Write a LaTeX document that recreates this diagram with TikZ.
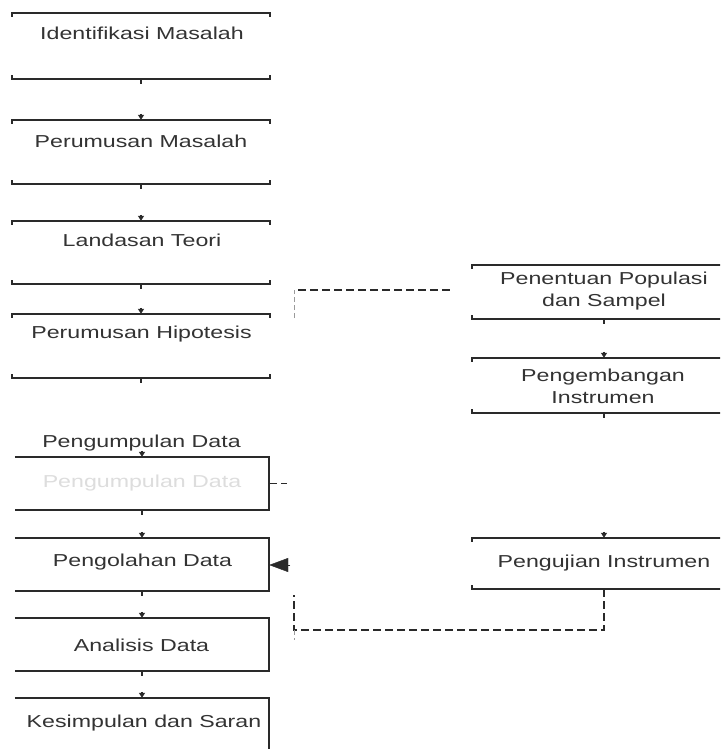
\documentclass[tikz,border=0pt]{standalone}
\usepackage{fontspec}
\setmainfont{Liberation Sans}
\newfontfamily\boxfont{Liberation Sans}[FakeStretch=1.34]
\usetikzlibrary{arrows.meta}
\definecolor{ink}{HTML}{2A2A2A}
\definecolor{txt}{HTML}{333333}
\definecolor{ghost}{HTML}{DDDDDD}
\definecolor{faint}{HTML}{9A9A9A}
\begin{document}
\begin{tikzpicture}[x=1pt,y=-1pt,
  lbox/.style={draw=none,inner sep=0pt,minimum width=258pt},
  mbox/.style={draw=none,inner sep=0pt,minimum width=254pt},
  rbox/.style={draw=none,inner sep=0pt,minimum width=264pt},
  lbl/.style={inner sep=0pt,text=txt,align=center,font={\boxfont\fontsize{17.3}{22}\selectfont}},
  ghostlbl/.style={lbl,text=ghost},
  edge/.style={draw=ink,line width=2.2pt},
  stub/.style={draw=ink,line width=1.8pt},
  tip/.style={draw=ink,line width=1.8pt,-{Triangle[length=5pt,width=6pt]}},
  dashline/.style={draw=ink,line width=1.9pt,dash pattern=on 8pt off 4pt},
  faintdash/.style={draw=faint,line width=0.9pt,dash pattern=on 5pt off 3pt}]
\clip (0,0) rectangle (720,749);
\fill[white] (0,0) rectangle (720,749);

% ---- left column boxes
\node[lbox,minimum height=66pt] (b1) at (141,46) {};
\node[lbox,minimum height=64pt] (b2) at (141,152) {};
\node[lbox,minimum height=63pt] (b3) at (141,252.5) {};
\node[lbox,minimum height=64pt] (b4) at (141,346) {};
\node[mbox,minimum height=53pt] (b5) at (142,483.5) {};
\node[mbox,minimum height=53pt] (b6) at (142,564.5) {};
\node[mbox,minimum height=53pt] (b7) at (142,644.5) {};
\node[mbox,minimum height=56pt] (b8) at (142,726) {};

% ---- right column boxes
\node[rbox,minimum height=54pt] (r1) at (604,292) {};
\node[rbox,minimum height=55pt] (r2) at (604,385.5) {};
\node[rbox,minimum height=51pt] (r3) at (604,563.5) {};

% ---- bracket outlines (top and bottom lines only)
\foreach \n in {b1,b2,b3,b4,r1,r2,r3}{
  \draw[edge] ([yshift=-4pt]\n.north west) -- (\n.north west) -- (\n.north east) -- ([yshift=-4pt]\n.north east);
  \draw[edge] ([yshift=4pt]\n.south west) -- (\n.south west) -- (\n.south east) -- ([yshift=4pt]\n.south east);
}
% ---- open boxes (top, right, bottom)
\foreach \n in {b5,b6,b7}{
  \draw[edge] (\n.north west) -- (\n.north east) -- (\n.south east) -- (\n.south west);
}
\draw[edge] (b8.north west) -- (b8.north east) -- (b8.south east);

% ---- texts
\node[lbl] (t1) at (142,33) {Identifikasi Masalah};
\node[lbl] (t2) at (141,141) {Perumusan Masalah};
\node[lbl] (t3) at (142,240) {Landasan Teori};
\node[lbl] (t4) at (141.5,334) {Perumusan Hipotesis};
\node[lbl] (t5) at (141.5,443) {Pengumpulan Data};
\node[ghostlbl] (t5g) at (142,483) {Pengumpulan Data};
\node[lbl] (t6) at (142.5,562) {Pengolahan Data};
\node[lbl] (t7) at (141.5,645) {Analisis Data};
\node[lbl] (t8) at (144,723) {Kesimpulan dan Saran};
\node[lbl] (u1) at (604,291) {Penentuan Populasi\\dan Sampel};
\node[lbl] (u2) at (603,386) {Pengembangan\\Instrumen};
\node[lbl] (u3) at (604,563) {Pengujian Instrumen};

% ---- connector stubs between boxes
\foreach \a/\b in {b1/b2,b2/b3,b3/b4,b4/b5,b5/b6,b6/b7,b7/b8,r1/r2}{
  \draw[stub] (\a.south) -- ++(0,5);
  \draw[tip] ([yshift=6pt]\b.north) -- (\b.north);
}
\draw[stub] (r2.south) -- ++(0,5);
\draw[tip] ([yshift=6pt]r3.north) -- (r3.north);

% ---- dashed links
\coordinate (h1) at (294,290);
\coordinate (h1e) at (453,290);
\coordinate (h1s) at (294,318);
\draw[faintdash] (h1s) -- (h1);
\draw[dashline] ([xshift=4pt]h1) -- (h1e);

\draw[dashline] (b5.east) -- ++(18,0);

\coordinate (g1) at (294,630);
\coordinate (g2) at (294,595);
\coordinate (g3) at (294,640);
\draw[dashline] (r3.south) -- (r3.south |- g1) -- (g1) -- (g2);
\draw[faintdash] (g1) -- (g3);

% ---- arrow into Pengolahan Data
\coordinate (a6) at (290,565);
\draw[draw=ink,fill=ink,line width=0.4pt,-{Triangle[length=19pt,width=14pt]}] (a6) -- (b6.east |- a6);
\end{tikzpicture}
\end{document}
